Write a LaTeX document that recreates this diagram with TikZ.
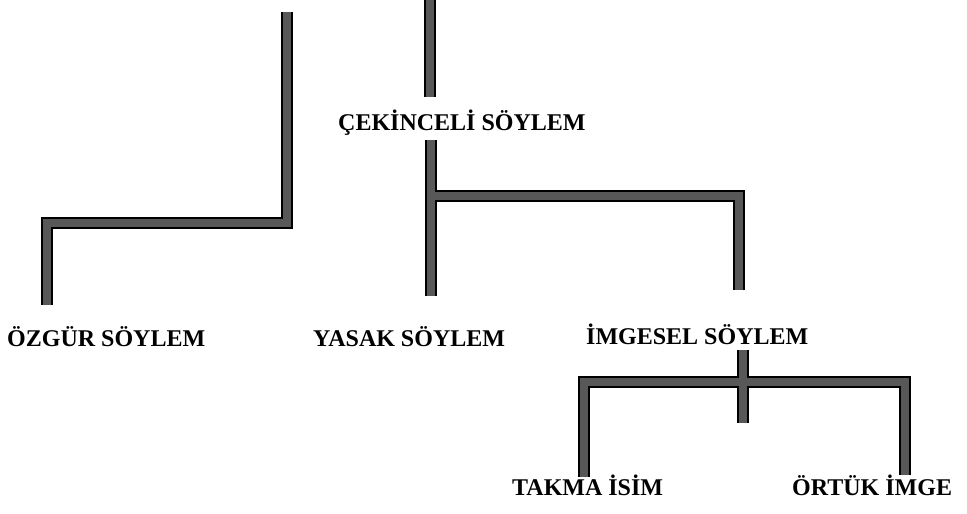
\documentclass[tikz,border=0pt]{standalone}
\usepackage{fontspec}
\setmainfont{Liberation Serif}
\begin{document}
\begin{tikzpicture}[x=1pt,y=-1pt,
  label/.style={anchor=base west,inner sep=0pt,font=\fontsize{24}{28}\selectfont\bfseries},
  barout/.style={line width=12pt,draw=black,line join=miter},
  barin/.style={line width=8pt,draw=barfill,line join=miter}]
\definecolor{barfill}{RGB}{88,88,88}
\useasboundingbox[fill=white] (0,0) rectangle (967,514);

% labels
\node[label] (ozgur)  at (7,346)   {ÖZGÜR SÖYLEM};
\node[label] (yasak)  at (313,346) {YASAK SÖYLEM};
\node[label] (cekin)  at (338,130) {ÇEKİNCELİ SÖYLEM};
\node[label] (imge)   at (586,344) {İMGESEL SÖYLEM};
\node[label] (takma)  at (512,495) {TAKMA İSİM};
\node[label] (ortuk)  at (792,495) {ÖRTÜK İMGE};

% bar end points and corners
\coordinate (a1) at (287,12);
\coordinate (a2) at (287,223);
\coordinate (a3) at (47,223);
\coordinate (a4) at (47,305);
\coordinate (b1) at (430,0);
\coordinate (b2) at (430,97);
\coordinate (c1) at (431,140);
\coordinate (c2) at (431,296);
\coordinate (c3) at (431,196);
\coordinate (c4) at (739,196);
\coordinate (c5) at (739,290);
\coordinate (d1) at (743,350);
\coordinate (d2) at (743,423);
\coordinate (d3) at (584,477);
\coordinate (d4) at (584,382);
\coordinate (d5) at (905,382);
\coordinate (d6) at (905,475);

% the bars: dark outline first, grey core on top
\newcommand\bartree[1]{%
  \draw[#1] (a1) -- (a2) -- (a3) -- (a4);
  \draw[#1] (b1) -- (b2);
  \draw[#1] (c1) -- (c2);
  \draw[#1] (c3) -- (c4) -- (c5);
  \draw[#1] (d1) -- (d2);
  \draw[#1] (d3) -- (d4) -- (d5) -- (d6);
}
\bartree{barout}
\bartree{barin}
\end{tikzpicture}
\end{document}
